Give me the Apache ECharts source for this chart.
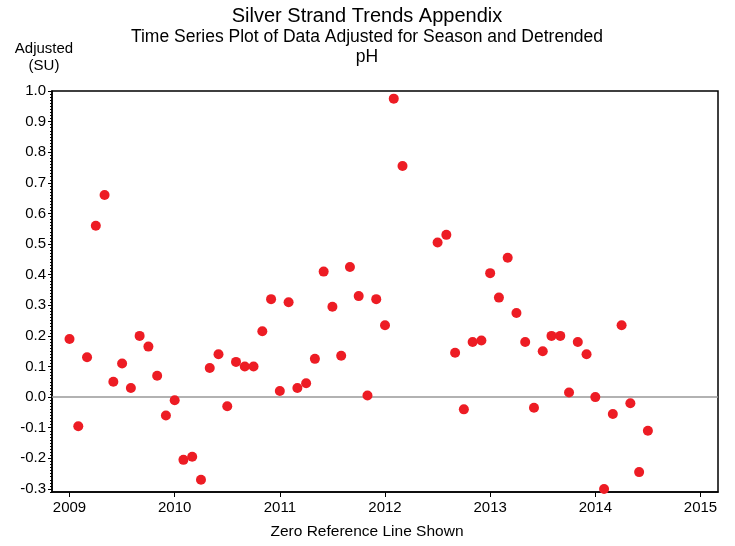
<!DOCTYPE html>
<html>
<head>
<meta charset="utf-8">
<script src="https://cdn.jsdelivr.net/npm/echarts@6/dist/echarts.min.js"></script>
<style>html,body{margin:0;padding:0;background:#fff;}#c{width:735px;height:546px;}</style>
</head>
<body>
<div id="c"></div>
<script>
// Observation months (YYYY-MM) and seasonally adjusted, detrended pH values (SU)
const months = [
  "2009-01","2009-02","2009-03","2009-04","2009-05","2009-06","2009-07","2009-08","2009-09","2009-10","2009-11","2009-12",
  "2010-01","2010-02","2010-03","2010-04","2010-05","2010-06","2010-07","2010-08","2010-09","2010-10","2010-11","2010-12",
  "2011-01","2011-02","2011-03","2011-04","2011-05","2011-06","2011-07","2011-08","2011-09","2011-10","2011-11","2011-12",
  "2012-01","2012-02","2012-03","2012-07","2012-08","2012-09","2012-10","2012-11","2012-12",
  "2013-01","2013-02","2013-03","2013-04","2013-05","2013-06","2013-07","2013-08","2013-09","2013-10","2013-11","2013-12",
  "2014-01","2014-02","2014-03","2014-04","2014-05","2014-06","2014-07"
];
const adjusted = [
  0.19,-0.095,0.13,0.56,0.66,0.05,0.11,0.03,0.20,0.165,0.07,-0.06,
  -0.01,-0.205,-0.195,-0.27,0.095,0.14,-0.03,0.115,0.10,0.10,0.215,0.32,
  0.02,0.31,0.03,0.045,0.125,0.41,0.295,0.135,0.425,0.33,0.005,0.32,
  0.235,0.975,0.755,0.505,0.53,0.145,-0.04,0.18,0.185,
  0.405,0.325,0.455,0.275,0.18,-0.035,0.15,0.20,0.20,0.015,0.18,0.14,
  0.0,-0.30,-0.055,0.235,-0.02,-0.245,-0.11
];
const xTickYears = [2009,2010,2011,2012,2013,2014,2015];
const yTickValues = [-0.3,-0.2,-0.1,0.0,0.1,0.2,0.3,0.4,0.5,0.6,0.7,0.8,0.9,1.0];

const FONT = '"Liberation Sans", Arial, Helvetica, sans-serif';
const points = months.map((m, i) => {
  const [y, mo] = m.split('-').map(Number);
  return [y + (mo - 1) / 12, adjusted[i]];
});

const chart = echarts.init(document.getElementById('c'), null, {renderer: 'canvas'});
const X_MIN = 2008 + 10 / 12, X_MAX = 2015 + 2 / 12;
const Y_MIN = -0.31, Y_MAX = 1.0;

chart.setOption({
  animation: false,
  backgroundColor: '#fff',
  grid: {left: 52, top: 91, width: 666, height: 401, show: true, borderColor: '#000', borderWidth: 1.5, backgroundColor: 'transparent'},
  xAxis: {
    type: 'value', min: X_MIN, max: X_MAX,
    axisLine: {show: true, onZero: false, lineStyle: {color: '#000', width: 1.5}},
    axisTick: {show: true, customValues: xTickYears, length: 5, lineStyle: {color: '#000', width: 1}},
    axisLabel: {customValues: xTickYears, margin: 8, color: '#000', fontSize: 15, fontFamily: FONT, formatter: v => String(Math.round(v))},
    splitLine: {show: false}
  },
  yAxis: [{
    type: 'value', min: Y_MIN, max: Y_MAX, position: 'left',
    axisLine: {show: true, onZero: false, lineStyle: {color: '#000', width: 1.5}},
    axisTick: {show: true, customValues: yTickValues, length: 4, lineStyle: {color: '#000', width: 1}},
    axisLabel: {customValues: yTickValues, margin: 6, color: '#000', fontSize: 15, fontFamily: FONT, formatter: v => v.toFixed(1)},
    splitLine: {show: false}
  }, {
    type: 'value', min: Y_MIN, max: Y_MAX, interval: 0.01, position: 'left',
    axisLine: {show: false},
    axisTick: {show: true, length: 2, lineStyle: {color: '#000', width: 1}},
    axisLabel: {show: false},
    splitLine: {show: false}
  }],
  series: [{
    type: 'scatter',
    data: points,
    yAxisIndex: 0,
    symbol: 'circle',
    symbolSize: 10,
    itemStyle: {color: '#ED1C24', opacity: 1},
    z: 3,
    markLine: {
      silent: true, symbol: ['none', 'none'], label: {show: false},
      lineStyle: {color: '#999', width: 1.5, type: 'solid'},
      data: [{yAxis: 0}], z: 1
    }
  }],
  graphic: [
    {type: 'text', style: {text: 'Silver Strand Trends Appendix', x: 367, y: 16.5, textAlign: 'center', textVerticalAlign: 'middle', fontSize: 20, fontFamily: FONT, fill: '#000'}},
    {type: 'text', style: {text: 'Time Series Plot of Data Adjusted for Season and Detrended', x: 367, y: 37.5, textAlign: 'center', textVerticalAlign: 'middle', fontSize: 17.5, fontFamily: FONT, fill: '#000'}},
    {type: 'text', style: {text: 'pH', x: 367, y: 57, textAlign: 'center', textVerticalAlign: 'middle', fontSize: 17.5, fontFamily: FONT, fill: '#000'}},
    {type: 'text', style: {text: 'Adjusted', x: 44, y: 49, textAlign: 'center', textVerticalAlign: 'middle', fontSize: 15, fontFamily: FONT, fill: '#000'}},
    {type: 'text', style: {text: '(SU)', x: 44, y: 66, textAlign: 'center', textVerticalAlign: 'middle', fontSize: 15, fontFamily: FONT, fill: '#000'}},
    {type: 'text', style: {text: 'Zero Reference Line Shown', x: 367, y: 532, textAlign: 'center', textVerticalAlign: 'middle', fontSize: 15.5, fontFamily: FONT, fill: '#000'}}
  ]
});
</script>
</body>
</html>
